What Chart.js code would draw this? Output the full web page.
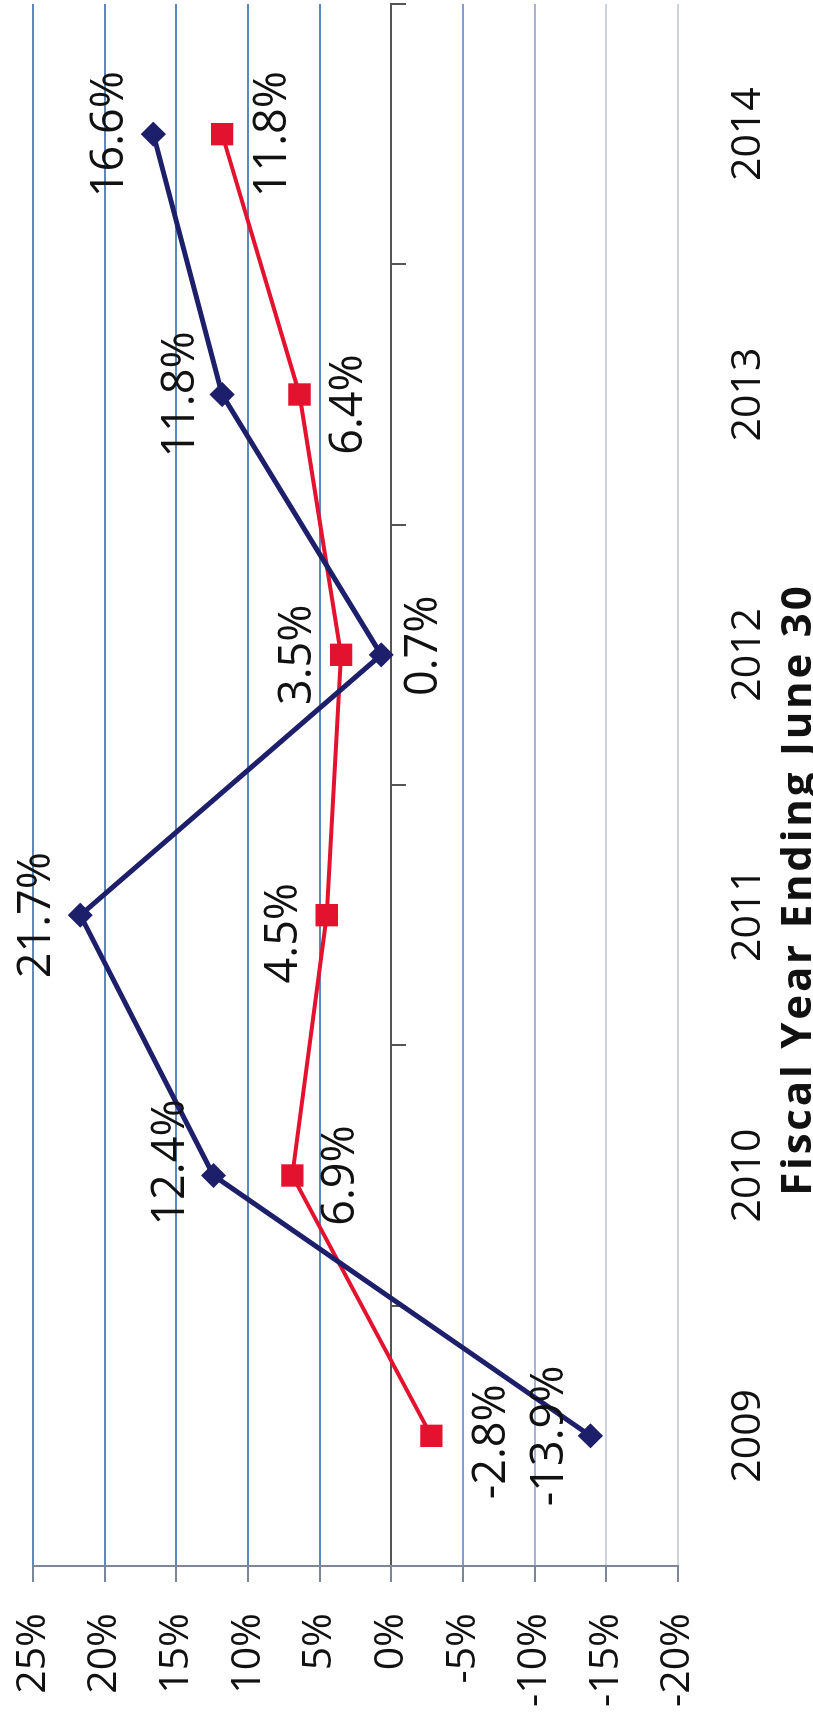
<!DOCTYPE html>
<html>
<head>
<meta charset="utf-8">
<script src="https://cdn.jsdelivr.net/npm/chart.js@4.4.1/dist/chart.umd.min.js"></script>
<style>
  html, body { margin: 0; padding: 0; background: #fff; overflow: hidden; width: 813px; height: 1715px; }
  /* the chart is drawn the normal way round, then turned a quarter turn to the left */
  #wrap { position: absolute; left: 0; top: 0; width: 1728px; height: 845px;
          transform-origin: 0 0; transform: translate(0, 1715px) rotate(-90deg); }
</style>
</head>
<body>
<div id="wrap"><canvas id="growthChart" width="1728" height="845"></canvas></div>
<script>
// Fiscal years and the two growth series
const years = ['2009', '2010', '2011', '2012', '2013', '2014'];
const seriesNavy = [-13.9, 12.4, 21.7, 0.7, 11.8, 16.6];
const seriesRed = [-2.8, 6.9, 4.5, 3.5, 6.4, 11.8];
const yTicks = [25, 20, 15, 10, 5, 0, -5, -10, -15, -20];

// how far each value label's baseline sits from its point (negative = above), and a small sideways nudge
const dyNavy = [-27, -30, -30, 56, -28, -30];
const dyRed = [74, 62, -30, -30, 62, 64];
const nudgeNavy = [0, 13, 0, 9, 0, 0];
const nudgeRed = [-6, 0, -18, 0, -10, 0];

const FONT = 'Open Sans';

const gridColor = v => v === 0 ? '#555555' : v >= 5 ? '#5a89c0' : v === -5 ? '#7f9fcd' : v === -10 ? '#a3b5d6' : '#cdd3e1';

const valueLabels = {
  id: 'valueLabels',
  afterDatasetsDraw(chart) {
    const ctx = chart.ctx;
    const dys = [dyNavy, dyRed];
    const nudges = [nudgeNavy, nudgeRed];
    ctx.save();
    ctx.font = '45px "' + FONT + '"';
    ctx.fillStyle = '#111';
    ctx.textAlign = 'center';
    ctx.textBaseline = 'alphabetic';
    chart.data.datasets.forEach((ds, di) => {
      chart.getDatasetMeta(di).data.forEach((pt, i) => {
        ctx.fillText(ds.data[i].toFixed(1) + '%', pt.x + nudges[di][i], pt.y + dys[di][i]);
      });
    });
    // axis title, a bit left of the plot centre as in the original
    const a = chart.chartArea;
    ctx.font = 'bold 42px "' + FONT + '"';
    ctx.letterSpacing = '2.8px';
    ctx.fillText('Fiscal Year Ending June 30', a.left + (a.right - a.left) * 0.433, a.bottom + 133);
    ctx.restore();
  }
};

new Chart(document.getElementById('growthChart'), {
  type: 'line',
  data: {
    labels: years,
    datasets: [{
      label: 'Navy',
      data: seriesNavy,
      borderColor: '#1e1f6b',
      backgroundColor: '#1e1f6b',
      borderWidth: 5,
      pointStyle: 'rectRot',
      pointRadius: 9,
    }, {
      label: 'Red',
      data: seriesRed,
      borderColor: '#e3122f',
      backgroundColor: '#e3122f',
      borderWidth: 4,
      pointStyle: 'rect',
      pointRadius: 13,
    }]
  },
  options: {
    responsive: false,
    animation: false,
    devicePixelRatio: 1,
    layout: { padding: { left: 8, right: 3, top: 33, bottom: 34 } },
    plugins: { legend: { display: false }, tooltip: { enabled: false } },
    scales: {
      x: {
        offset: true,
        grid: { display: false },
        border: { display: false },
        ticks: { padding: 38, maxRotation: 0, color: '#111', font: { family: FONT, size: 41 } },
        afterFit: s => { s.paddingLeft = 0; s.paddingRight = 0; }
      },
      // category axis line crossing at 0%, with its tick marks
      x2: {
        type: 'category',
        axis: 'x',
        labels: years,
        position: { y: 0 },
        offset: true,
        grid: { offset: true, drawOnChartArea: false, tickLength: 14, color: '#555', lineWidth: 2 },
        border: { color: '#555', width: 2 },
        ticks: { display: false }
      },
      y: {
        min: -20,
        max: 25,
        afterBuildTicks: s => { s.ticks = yTicks.map(v => ({ value: v })); },
        afterFit: s => { s.width = 141; s.paddingTop = 0; s.paddingBottom = 0; },
        grid: { color: c => gridColor(c.tick.value), lineWidth: 2, tickLength: 16, tickColor: '#7d8798' },
        border: { color: '#7d8798', width: 2 },
        ticks: { padding: 31, color: '#111', font: { family: FONT, size: 41 }, callback: v => v + '%' }
      }
    }
  },
  plugins: [valueLabels]
});
</script>
</body>
</html>
